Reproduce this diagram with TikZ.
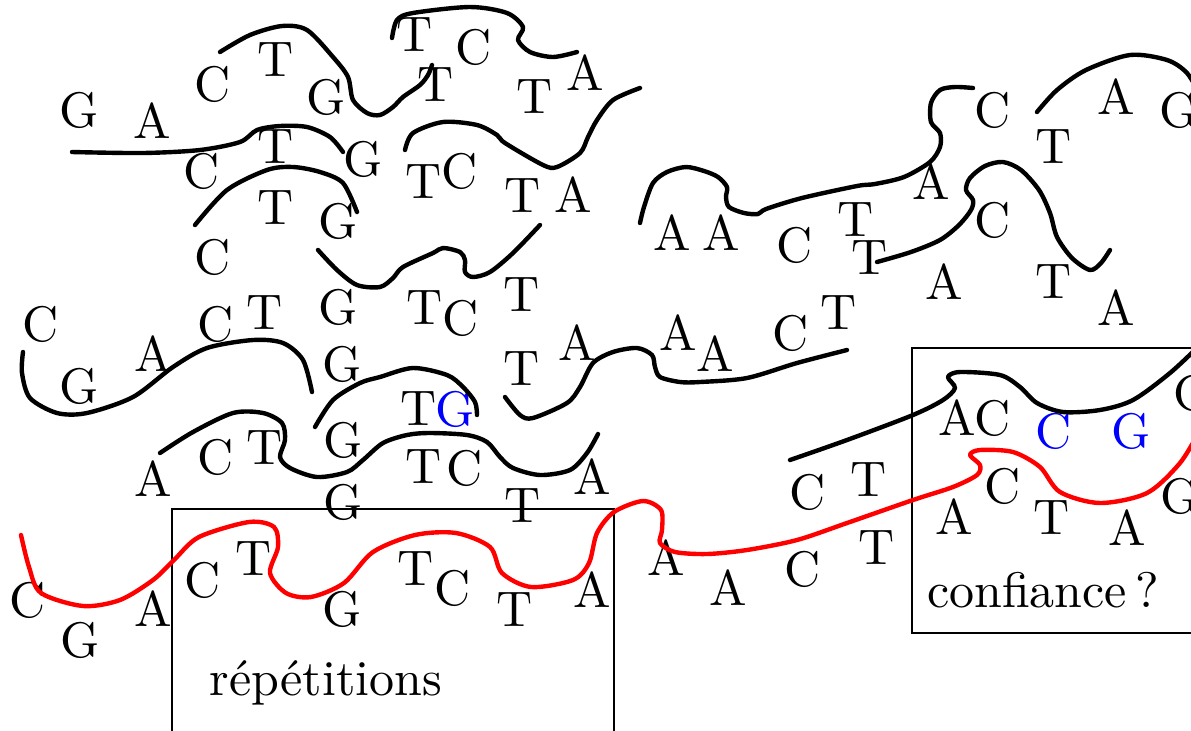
\documentclass[tikz,border=0pt]{standalone}
\usepackage{fontspec}
% the 10pt design of Latin Modern, scaled up for every size
\setmainfont{lmroman10-regular.otf}
\usepackage{tikz}
\newcommand{\bigtype}{\fontsize{25}{30}\selectfont}
\begin{document}
\begin{tikzpicture}[x=0.5pt,y=-0.5pt,
  base/.style={font=\bigtype,inner sep=0pt,outer sep=0pt},
  lbl/.style={font=\bigtype,inner sep=0pt,anchor=base},
  read/.style={line width=2.2pt,line cap=round,line join=round},
  ref/.style={read,red},
  frame/.style={line width=0.9pt}]
\useasboundingbox (0,0) rectangle (1191,730);

% regions of interest
\draw[frame] (172,740) -- (172,509) -- (614,509) -- (614,740);
\draw[frame] (1200,348) -- (912,348) -- (912,633) -- (1200,633);
\node[lbl] (rep) at (326,695) {répétitions};
\node[lbl] (conf) at (1043,607) {confiance\,?};

% bases of the reads
\foreach \x/\y/\b in {
  79/110/G, 152/121/A, 213/84/C, 276/60/T, 326/97/G,
  415/35/T, 474/47/C, 436/85/T, 535/97/T, 585/73/A,
  202/171/C, 276/147/T, 363/159/G, 424/182/T, 460/171/C, 523/196/T, 573/195/A,
  213/257/C, 276/208/T, 338/221/G,
  41/324/C, 79/386/G, 153/354/A, 216/324/C, 265/313/T, 338/307/G,
  425/308/T, 461/318/C, 522/295/T,
  342/364/G, 522/369/T, 577/343/A, 678/333/A, 715/354/A, 791/333/C, 839/313/T,
  419/409/T,
  153/479/A, 216/457/C, 265/448/T, 343/440/G, 424/467/T, 465/468/C, 592/477/A,
  343/502/G, 523/506/T, 808/492/C, 869/480/T,
  672/233/A, 721/233/A, 795/245/C, 856/220/T, 870/258/T, 931/182/A,
  993/110/C, 1054/147/T, 1116/97/A, 1179/110/G, 993/220/C,
  944/282/A, 1054/282/T, 1116/308/A,
  957/418/A, 993/418/C, 1192/393/C,
  954/517/A, 1003/486/C, 1052/518/T, 1127/528/A, 1180/496/G,
  28/600/C, 80/640/G, 153/609/A, 203/580/C, 254/559/T, 342/609/G,
  416/569/T, 453/588/C, 515/610/T, 592/590/A,
  666/558/A, 728/588/A, 803/569/C, 877/548/T}
  \node[base] at (\x,\y) {\b};

% uncertain bases
\foreach \x/\y/\b in {455/409/G, 1054/431/C, 1131/431/G}
  \node[base,text=blue] at (\x,\y) {\b};

% reads
\draw[read] plot[smooth] coordinates {(220,52) (250,35) (282,26) (307,30) (333,57) (348,77) (353,100) (367,113) (380,115) (393,107) (403,97) (420,85) (428,75) (432,65)};
\draw[read] plot[smooth] coordinates {(392,38) (397,20) (413,13) (470,7) (507,13) (523,27) (518,40) (530,52) (553,57) (577,52)};
\draw[read] plot[smooth] coordinates {(72,152) (143,153) (200,150) (240,142) (257,130) (280,126) (307,127) (330,137) (343,152)};
\draw[read] plot[smooth] coordinates {(195,225) (227,190) (267,170) (293,167) (320,172) (343,183) (357,212)};
\draw[read] plot[smooth] coordinates {(405,150) (413,133) (443,122) (477,125) (497,135) (505,143) (543,165) (557,167) (580,153) (588,137) (597,120) (613,100) (640,88)};
\draw[read] plot[smooth] coordinates {(318,250) (337,270) (357,285) (380,287) (393,278) (403,267) (433,253) (443,248) (460,252) (465,260) (465,272) (473,277) (490,272) (513,253) (540,225)};
\draw[read] plot[smooth] coordinates {(23,352) (22,373) (30,398) (57,413) (87,413) (133,397) (173,367) (207,348) (253,340) (283,343) (303,360) (312,392)};
\draw[read] plot[smooth] coordinates {(160,453) (193,432) (233,413) (263,413) (282,423) (285,440) (280,457) (290,468) (317,477) (347,472) (363,460) (383,443) (407,435) (430,433) (467,435) (487,442) (500,457) (513,468) (540,475) (570,470) (587,453) (598,434)};
\draw[read] plot[smooth] coordinates {(315,427) (333,400) (360,383) (380,377) (413,368) (447,375) (463,387) (475,402) (477,415)};
\draw[read] plot[smooth] coordinates {(505,397) (520,415) (533,418) (567,403) (580,387) (593,363) (613,352) (637,348) (652,355) (655,367) (660,377) (680,382) (700,382) (747,378) (797,363) (847,350)};
\draw[read] plot[smooth] coordinates {(640,223) (644,207) (653,183) (667,172) (686,167) (704,171) (718,177) (727,187) (726,197) (729,207) (744,213) (758,214) (766,209) (802,198) (857,186) (875,184) (904,177) (930,162) (940,147) (940,133) (931,122) (931,103) (940,90) (955,87) (973,88)};
\draw[read] plot[smooth] coordinates {(1037,112) (1057,90) (1086,70) (1130,55) (1167,60) (1187,73) (1200,95)};
\draw[read] plot[smooth] coordinates {(877,262) (911,252) (940,240) (959,225) (971,210) (973,200) (966,190) (970,178) (985,166) (1003,162) (1021,170) (1039,190) (1050,213) (1057,237) (1072,258) (1090,270) (1101,263) (1110,250)};
\draw[read] plot[smooth] coordinates {(790,460) (847,440) (913,415) (943,400) (955,388) (948,377) (960,372) (1000,375) (1020,387) (1037,403) (1063,412) (1100,410) (1133,400) (1170,373) (1200,345)};

% reference sequence
\draw[ref] plot[smooth] coordinates {(21,535) (29,567) (41,593) (83,606) (120,600) (153,580) (174,560) (199,537) (249,522) (274,527) (278,547) (270,573) (286,593) (311,597) (344,583) (373,552) (415,535) (456,533) (490,547) (502,573) (531,587) (573,580) (589,563) (597,533) (614,512) (643,501) (661,510) (662,530) (660,543) (675,552) (707,554) (747,550) (797,540) (847,523) (913,500) (953,487) (977,475) (980,465) (970,455) (980,450) (1013,452) (1040,467) (1060,492) (1100,503) (1147,493) (1180,463) (1200,430)};
\end{tikzpicture}
\end{document}
